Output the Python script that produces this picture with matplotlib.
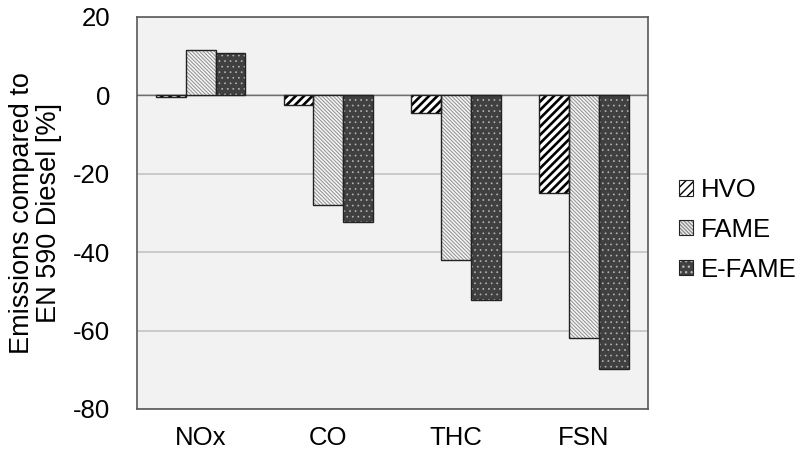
import numpy as np
import matplotlib.pyplot as plt
from matplotlib.patches import Patch
from matplotlib.ticker import FuncFormatter
from matplotlib.legend_handler import HandlerTuple

plt.rcParams['font.family'] = ['Liberation Sans', 'DejaVu Sans']

categories = ['NOx', 'CO', 'THC', 'FSN']
series = ['HVO', 'FAME', 'E-FAME']
hvo = [-0.3, -2.5, -4.5, -25]
fame = [11.5, -28, -42, -62]
efame = [10.7, -32.3, -52.3, -69.8]

# face, hatch, hatch colour, hatch linewidth per series
styles = [
    ('white', '////', 'black', 1.9),
    ('#f4f4f4', '\\' * 9, '#8f8f8f', 0.7),
    ('#404040', '...', '#b5b5b5', 0.5),
]

fig = plt.figure(figsize=(8.04, 4.59), dpi=100)
ax = fig.add_axes([0.170, 0.109, 0.636, 0.854])
ax.set_facecolor('#f2f2f2')

x = np.arange(len(categories))
w = 0.234
handles = []
for i, (vals, name) in enumerate(zip([hvo, fame, efame], series)):
    face, hatch, hcol, hlw = styles[i]
    pos = x + (i - 1) * w
    with plt.rc_context({'hatch.linewidth': hlw}):
        bars = ax.bar(pos, vals, w, color=face, hatch=hatch, edgecolor=hcol, linewidth=0, zorder=3)
        p = Patch(facecolor=face, hatch=hatch, edgecolor=hcol, linewidth=0)
    for b in list(bars) + [p]:
        if hasattr(b, 'set_hatch_linewidth'):
            b.set_hatch_linewidth(hlw)
    ax.bar(pos, vals, w, fill=False, edgecolor='#222222', linewidth=1.0, zorder=4)
    outline = Patch(fill=False, edgecolor='#222222', linewidth=0.8)
    handles.append((p, outline))

ax.set_ylim(-80, 20)
ax.set_xlim(-0.5, 3.5)
ax.set_yticks(range(-80, 21, 20))
ax.yaxis.set_major_formatter(FuncFormatter(lambda v, _: '%d' % v))
ax.set_xticks(x)
ax.set_xticklabels(categories)
ax.tick_params(axis='y', length=0, labelsize=18.5, pad=19)
ax.tick_params(axis='x', length=0, labelsize=18.5, pad=12)
ax.yaxis.grid(True, color='#c4c4c4', linewidth=1.2, zorder=0)
ax.axhline(0, color='#6e6e6e', linewidth=1.0, zorder=2)
for s in ax.spines.values():
    s.set_color('#595959')
    s.set_linewidth(1.2)

ax.set_ylabel('Emissions compared to\nEN 590 Diesel [%]', fontsize=19.5, labelpad=8, linespacing=1.05)

ax.legend(handles=handles, labels=series, loc='center left', bbox_to_anchor=(1.0, 0.457), frameon=False,
          fontsize=18.5, handlelength=0.55, handleheight=0.55, handletextpad=0.3, labelspacing=0.62,
          borderaxespad=0.8, handler_map={tuple: HandlerTuple(ndivide=1, pad=0)})

fig.savefig('out.png', dpi=100)
